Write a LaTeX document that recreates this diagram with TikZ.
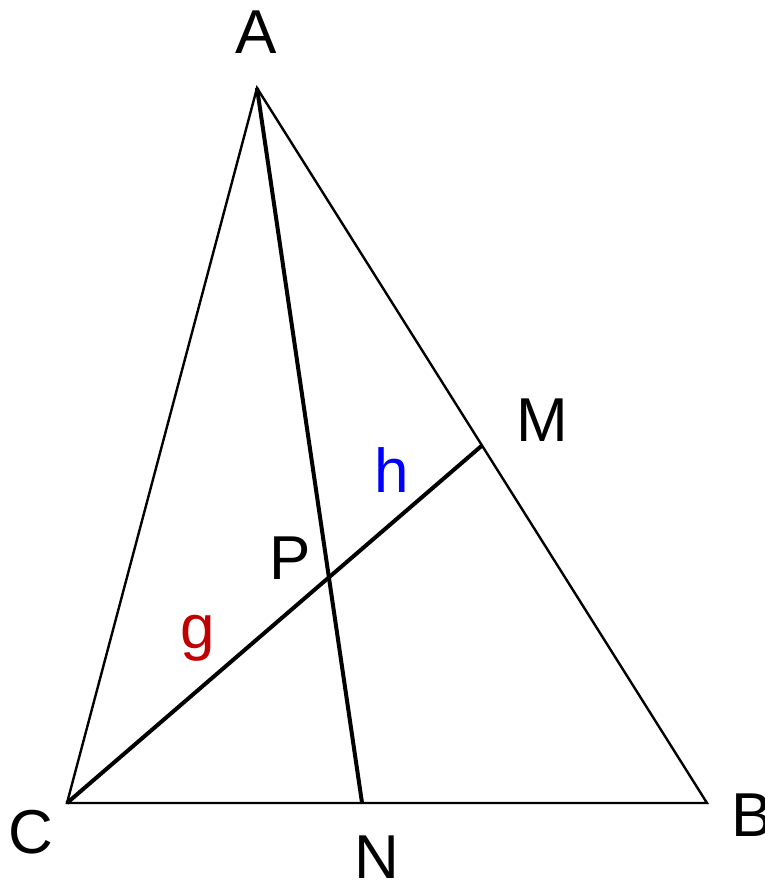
\documentclass[tikz,border=0pt]{standalone}
\usepackage{fontspec}
\setmainfont{Liberation Sans}
\usetikzlibrary{calc, intersections}

\definecolor{gred}{HTML}{C00000}
\definecolor{hblue}{HTML}{0000FF}

\tikzset{
    side/.style={line width=2.4pt, line join=miter},
    cevian/.style={line width=4pt},
    lbl/.style={inner sep=0pt, font=\fontsize{62}{62}\selectfont},
}

\begin{document}
\begin{tikzpicture}[x=1pt, y=-1pt]
    \useasboundingbox (0,0) rectangle (764,883);
    % vertices
    \coordinate (A) at (257,88);
    \coordinate (C) at (67,803);
    \coordinate (B) at (707,803);
    \coordinate (M) at ($(A)!0.5!(B)$);
    \coordinate (N) at ($(C)!0.461!(B)$);

    \draw[side] (A) -- (B) -- (C) -- cycle;
    \draw[cevian, name path=an] (A) -- (N);
    \draw[cevian, name path=cm] (C) -- (M);
    \path[name intersections={of=an and cm, by=P}];

    % labels
    \node[lbl] (la) at (256,32) {A};
    \node[lbl] (lc) at (31,832) {C};
    \node[lbl] (lb) at (752,815) {B};
    \node[lbl] (ln) at (377,857) {N};
    \node[lbl] (lm) at (542,420) {M};
    \node[lbl] (lp) at (290,558) {P};
    \node[lbl, text=gred] (lg) at (198,638) {g};
    \node[lbl, text=hblue] (lh) at (392,470) {h};
\end{tikzpicture}
\end{document}
